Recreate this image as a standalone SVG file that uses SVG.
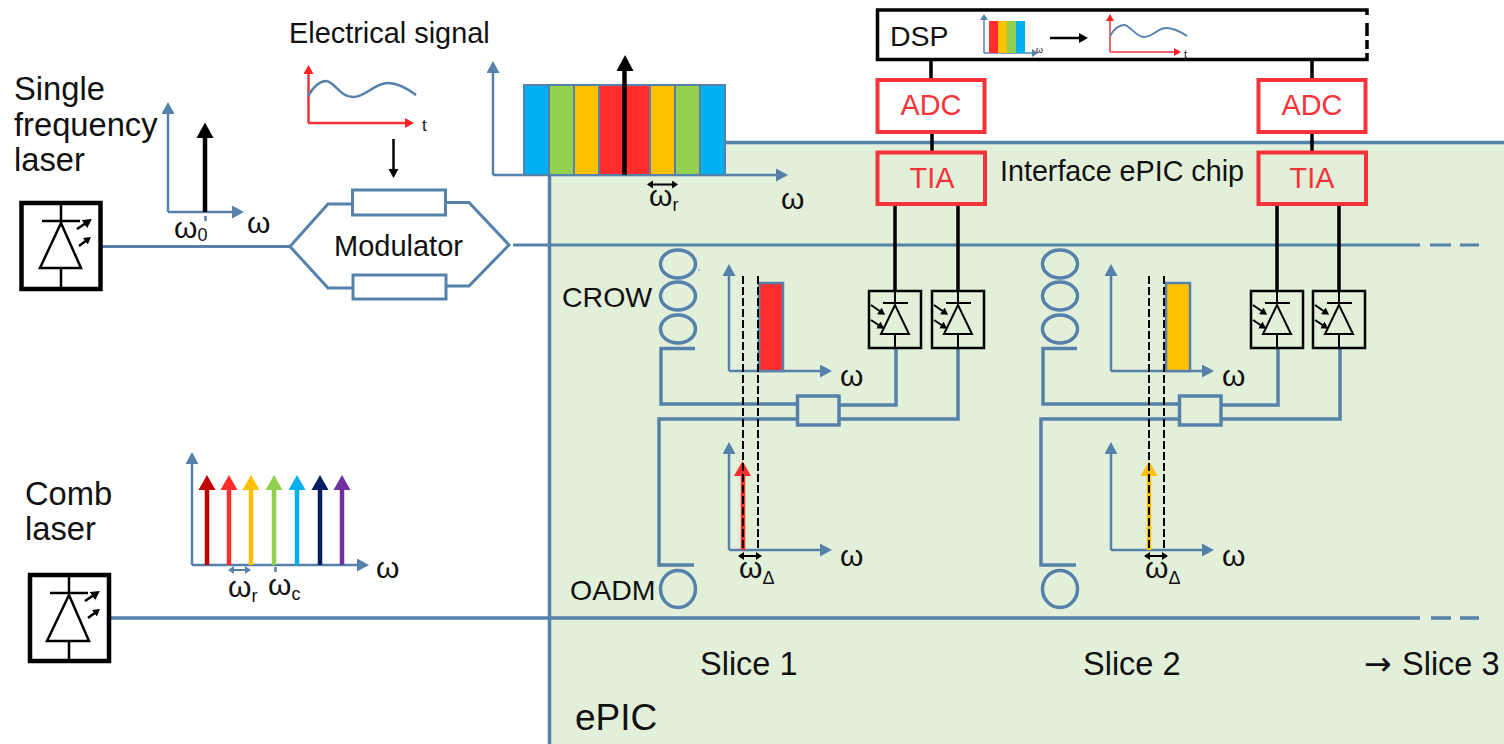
<svg xmlns="http://www.w3.org/2000/svg" width="1504" height="744" viewBox="0 0 1504 744">
<style>
text{font-family:"Liberation Sans",Arial,sans-serif;fill:#111}
.b{fill:none;stroke:#5581ab;stroke-width:3.5}
.a{fill:none;stroke:#5581ab;stroke-width:2.5}
.k{fill:none;stroke:#000;stroke-width:3.5}
.t{fill:none;stroke:#000;stroke-width:2}
.r{fill:none;stroke:#f5333a;stroke-width:4}
.d{fill:none;stroke:#000;stroke-width:2;stroke-dasharray:8 3}
.rt{fill:#f5333a;font-size:28.8px}
.s{font-size:28.5px}
.l{font-size:32.7px}
.sl{font-size:32.5px}
.w{font-size:30px}
.kh{fill:#000}
.rh{fill:#ff1f1f}
</style>
<defs>
<marker id="ab" markerUnits="userSpaceOnUse" markerWidth="14" markerHeight="14" refX="2" refY="6.5" orient="auto"><path d="M0 0L12 6.500L0 13Z" fill="#5581ab"/></marker>
<marker id="ar" markerUnits="userSpaceOnUse" markerWidth="12" markerHeight="14" refX="2" refY="5" orient="auto"><path d="M0 0L9 5L0 10Z" fill="#ff1f1f"/></marker>
<marker id="ak" markerUnits="userSpaceOnUse" markerWidth="12" markerHeight="12" refX="2" refY="5" orient="auto"><path d="M0 0L9 5L0 10Z" fill="#000"/></marker>
<marker id="ap" markerUnits="userSpaceOnUse" markerWidth="10" markerHeight="10" refX="2" refY="4" orient="auto"><path d="M0 0L7 4L0 8Z" fill="#000"/></marker>
<marker id="as" markerUnits="userSpaceOnUse" markerWidth="10" markerHeight="10" refX="1" refY="4" orient="auto-start-reverse"><path d="M0 0L6 4L0 8Z" fill="#000"/></marker>
<marker id="abs" markerUnits="userSpaceOnUse" markerWidth="10" markerHeight="10" refX="1" refY="4" orient="auto-start-reverse"><path d="M0 0L6 4L0 8Z" fill="#5581ab"/></marker>
<g id="pd">
<rect x="869" y="291" width="52" height="57" class="t" style="stroke-width:2.500"/>
<path d="M895 291V303M883 303H908M895 305L881 334H909ZM895 334V348" class="t"/>
<path d="M871 305L881 312" class="t" marker-end="url(#ap)"/>
<path d="M871 320L880 326" class="t" marker-end="url(#ap)"/>
</g>
<g id="slice">
<ellipse cx="678" cy="264" rx="17.500" ry="14" class="b"/>
<ellipse cx="678" cy="296" rx="17.500" ry="14" class="b"/>
<ellipse cx="678" cy="329" rx="17.500" ry="14" class="b"/>
<ellipse cx="678" cy="589" rx="17.500" ry="18.500" class="b"/>
<path d="M695 348.500H661V404H797M839 405H896V348M839 419H958V348M797 419H659V565H694" class="b"/>
<rect x="797.500" y="396" width="41.500" height="29" class="b"/>
<path d="M729 371V274" class="a" marker-end="url(#ab)"/>
<path d="M729 371H822" class="a" marker-end="url(#ab)"/>
<path d="M729 550V452" class="a" marker-end="url(#ab)"/>
<path d="M729 550H822" class="a" marker-end="url(#ab)"/>
<text x="840" y="386" class="w">ω</text>
<text x="840" y="566" class="w">ω</text>
</g>
<g id="slicetop">
<path d="M743 276V549M758 276V549" class="d"/>
<path d="M743 556H757" class="t" marker-start="url(#as)" marker-end="url(#as)"/>
<text x="739" y="578" class="w">ω<tspan font-size="18" dy="6">Δ</tspan></text>
</g>
</defs>

<g id="epic-chip">
<path d="M550 175H725V142H1504V744H550Z" fill="#e2efd9"/>
<path d="M725 142.500H1504" class="b"/>
<path d="M549.500 175V744" class="b"/>
<text x="575" y="730" font-size="37">ePIC</text>
</g>

<g id="connectors">
<path d="M101 246.500H290" class="b" style="stroke-width:3"/>
<path d="M513 245H1420" class="b" style="stroke-width:3"/>
<path d="M1430 245H1451M1460 245H1479" class="b" style="stroke-width:3"/>
<path d="M110 618H1420" class="b"/>
<path d="M1431 618H1451M1460 618H1479" class="b"/>
<path d="M931 60V80M932 132V152M895 204V291M958 204V291M1312 60V80M1312 132V152M1277 204V291M1339 204V291" class="k"/>
</g>

<g id="single-frequency-laser">
<rect x="21.500" y="203" width="79" height="86" class="k" style="stroke-width:4.500"/>
<path d="M61 203V221M42 221H80M61 223L40 268H81ZM61 268V289" class="k" style="stroke-width:2.500"/>
<path d="M77 229L86 223" class="k" style="stroke-width:2.500" marker-end="url(#ak)"/>
<path d="M79 246L87 240" class="k" style="stroke-width:2.500" marker-end="url(#ap)"/>
<text x="14" y="100" class="l">Single</text>
<text x="14" y="136" class="l">frequency</text>
<text x="14" y="171" class="l">laser</text>
</g>

<g id="laser-spectrum">
<path d="M168 212V112" class="a" marker-end="url(#ab)"/>
<path d="M168 212H234" class="a" marker-end="url(#ab)"/>
<path d="M205 212V136" class="k" style="stroke-width:4.500"/>
<path d="M205 122.500L213.500 138H196.500Z" class="kh"/>
<path d="M205.500 216V221" class="a"/>
<text x="174" y="238" class="w">ω<tspan font-size="18" dy="3">0</tspan></text>
<text x="247" y="233" class="w">ω</text>
</g>

<g id="electrical-signal">
<text x="289" y="43" font-size="28.900">Electrical signal</text>
<path d="M308.500 123V72" class="r" style="stroke-width:2.500" marker-end="url(#ar)"/>
<path d="M308 123H407" class="r" style="stroke-width:2.500" marker-end="url(#ar)"/>
<path d="M308 96C314 86 320 81 326 81C334 81 340 97 353 97C366 97 374 83 388 83C398 83 408 89 416 95" class="a"/>
<text x="422" y="131" font-size="17">t</text>
<path d="M393.500 139V170" class="k" style="stroke-width:2.500"/>
<path d="M393.500 178L388.500 169H398.500Z" class="kh"/>
</g>

<g id="modulator">
<path d="M290 246.500L328 204H352M445 202.500H469L509 245L469 286H445M290 246.500L328 288H353" class="b" style="stroke-width:3"/>
<rect x="352.500" y="190" width="93" height="25" class="b" style="stroke-width:3"/>
<rect x="353" y="275" width="93" height="24" class="b" style="stroke-width:3"/>
<text x="334" y="256" font-size="29">Modulator</text>
</g>

<g id="modulated-spectrum">
<path d="M493 175V71" class="a" marker-end="url(#ab)"/>
<path d="M493 175H778" class="a" marker-end="url(#ab)"/>
<g stroke="#5581ab" stroke-width="2">
<rect x="524" y="85" width="25" height="90" fill="#00b0f0"/>
<rect x="549" y="85" width="25" height="90" fill="#92d050"/>
<rect x="574" y="85" width="25" height="90" fill="#ffc000"/>
<rect x="599" y="85" width="51" height="90" fill="#ff2d2d"/>
<rect x="650" y="85" width="25" height="90" fill="#ffc000"/>
<rect x="675" y="85" width="25" height="90" fill="#92d050"/>
<rect x="700" y="85" width="25" height="90" fill="#00b0f0"/>
</g>
<path d="M624.500 175V70" class="k" style="stroke-width:4.500"/>
<path d="M625 55L633.500 71H616.500Z" class="kh"/>
<path d="M652 184.500H673" class="t" marker-start="url(#as)" marker-end="url(#as)"/>
<text x="649" y="206" class="w">ω<tspan font-size="18" dy="5">r</tspan></text>
<text x="781" y="209" class="w">ω</text>
</g>

<g id="dsp">
<path d="M1367 15V10H877.500V59.500H1367V53" class="k"/>
<path d="M1367 23V36M1367 40V49" class="k"/>
<text x="890" y="46" font-size="28.500">DSP</text>
<path d="M984 53V19" fill="none" stroke="#5581ab" stroke-width="1.500" marker-end="url(#abs)"/>
<path d="M984 53H1033" fill="none" stroke="#5581ab" stroke-width="1.500" marker-end="url(#abs)"/>
<rect x="989" y="21" width="9" height="32" fill="#ff2d2d"/>
<rect x="998" y="21" width="9" height="32" fill="#ffc000"/>
<rect x="1007" y="21" width="9" height="32" fill="#92d050"/>
<rect x="1016" y="21" width="9" height="32" fill="#00b0f0"/>
<text x="1036" y="53" font-size="9">ω</text>
<path d="M1050 38H1081" class="k" style="stroke-width:2.500"/>
<path d="M1088 38L1079 33V43Z" class="kh"/>
<path d="M1110 52V20" class="r" style="stroke-width:1.500"/>
<path d="M1110 14L1106 21H1114Z" class="rh"/>
<path d="M1110 52H1174" class="r" style="stroke-width:1.500"/>
<path d="M1181 52L1174 48V56Z" class="rh"/>
<path d="M1110 36C1114 29 1119 25 1124 25C1130 25 1136 37 1144 37C1153 37 1158 28 1166 28C1173 28 1181 32 1187 36" class="a" style="stroke-width:1.800"/>
<text x="1184" y="58" font-size="11">t</text>
</g>

<g id="adc-1"><rect x="877.500" y="80" width="107" height="52" class="r"/><text x="931" y="115" text-anchor="middle" class="rt" style="fill:#f5333a">ADC</text></g>
<g id="tia-1"><rect x="877.500" y="152.500" width="107.500" height="51.500" class="r"/><text x="932" y="188" text-anchor="middle" class="rt" style="fill:#f5333a">TIA</text></g>
<g id="adc-2"><rect x="1258.500" y="80" width="107" height="52" class="r"/><text x="1312" y="115" text-anchor="middle" class="rt" style="fill:#f5333a">ADC</text></g>
<g id="tia-2"><rect x="1258.500" y="152.500" width="107.500" height="51.500" class="r"/><text x="1312" y="188" text-anchor="middle" class="rt" style="fill:#f5333a">TIA</text></g>
<text x="1000" y="181" font-size="28.700">Interface ePIC chip</text>

<g id="slice-1">
<use href="#slice"/>
<circle cx="699" cy="270" r="0.800" fill="#5581ab"/>
<rect x="759" y="283" width="24" height="88" fill="#ff2d2d" stroke="#5581ab" stroke-width="2.500"/>
<path d="M743 550V475" fill="none" stroke="#ff2d2d" stroke-width="4.500"/>
<path d="M742.500 461L751 476H734Z" fill="#ff2d2d"/>
<use href="#slicetop"/>
<use href="#pd"/>
<use href="#pd" x="63"/>
<text x="562" y="307" class="s">CROW</text>
<text x="570" y="600" class="s">OADM</text>
<text x="700" y="675" class="sl">Slice 1</text>
</g>

<g id="slice-2">
<use href="#slice" x="382"/>
<rect x="1166" y="283" width="24" height="88" fill="#ffc000" stroke="#5581ab" stroke-width="2.500"/>
<path d="M1149 550V475" fill="none" stroke="#ffc000" stroke-width="4.500"/>
<path d="M1149 461L1157.500 476H1140.500Z" fill="#ffc000"/>
<use href="#slicetop" x="406"/>
<use href="#pd" x="382"/>
<use href="#pd" x="444"/>
<text x="1083" y="675" class="sl">Slice 2</text>
</g>

<text x="1364" y="675" class="sl"><tspan font-family="DejaVu Sans" font-size="33">→</tspan><tspan x="1402">Slice 3</tspan></text>

<g id="comb-laser">
<rect x="30" y="575" width="79" height="86" class="k" style="stroke-width:4.500"/>
<path d="M69 575V593M50 593H88M69 595L47 641H89ZM69 641V661" class="k" style="stroke-width:2.500"/>
<path d="M85 601L94 595" class="k" style="stroke-width:2.500" marker-end="url(#ak)"/>
<path d="M88 618L96 612" class="k" style="stroke-width:2.500" marker-end="url(#ap)"/>
<text x="25" y="505" class="l">Comb</text>
<text x="25" y="540" class="l">laser</text>
</g>

<g id="comb-spectrum">
<path d="M192 565V462" class="a" marker-end="url(#ab)"/>
<path d="M192 565H359" class="a" marker-end="url(#ab)"/>
<path d="M207 565V490" fill="none" stroke="#c00000" stroke-width="4.500"/><path d="M207 475L215.500 490H198.500Z" fill="#c00000"/>
<path d="M229 565V490" fill="none" stroke="#ff2d2d" stroke-width="4.500"/><path d="M229 475L237.500 490H220.500Z" fill="#ff2d2d"/>
<path d="M251 565V490" fill="none" stroke="#ffc000" stroke-width="4.500"/><path d="M251 475L259.500 490H242.500Z" fill="#ffc000"/>
<path d="M274 565V490" fill="none" stroke="#92d050" stroke-width="4.500"/><path d="M274 475L282.500 490H265.500Z" fill="#92d050"/>
<path d="M297 565V490" fill="none" stroke="#00b0f0" stroke-width="4.500"/><path d="M297 475L305.500 490H288.500Z" fill="#00b0f0"/>
<path d="M320 565V490" fill="none" stroke="#002060" stroke-width="4.500"/><path d="M320 475L328.500 490H311.500Z" fill="#002060"/>
<path d="M342 565V490" fill="none" stroke="#7030a0" stroke-width="4.500"/><path d="M342 475L350.500 490H333.500Z" fill="#7030a0"/>
<path d="M233 570H246" class="a" style="stroke-width:2" marker-start="url(#abs)" marker-end="url(#abs)"/>
<path d="M275.500 567V572" class="a"/>
<text x="228" y="597" class="w">ω<tspan font-size="18" dy="5">r</tspan></text>
<text x="268" y="595" class="w">ω<tspan font-size="18" dy="5">c</tspan></text>
<text x="376" y="578" class="w">ω</text>
</g>
</svg>
